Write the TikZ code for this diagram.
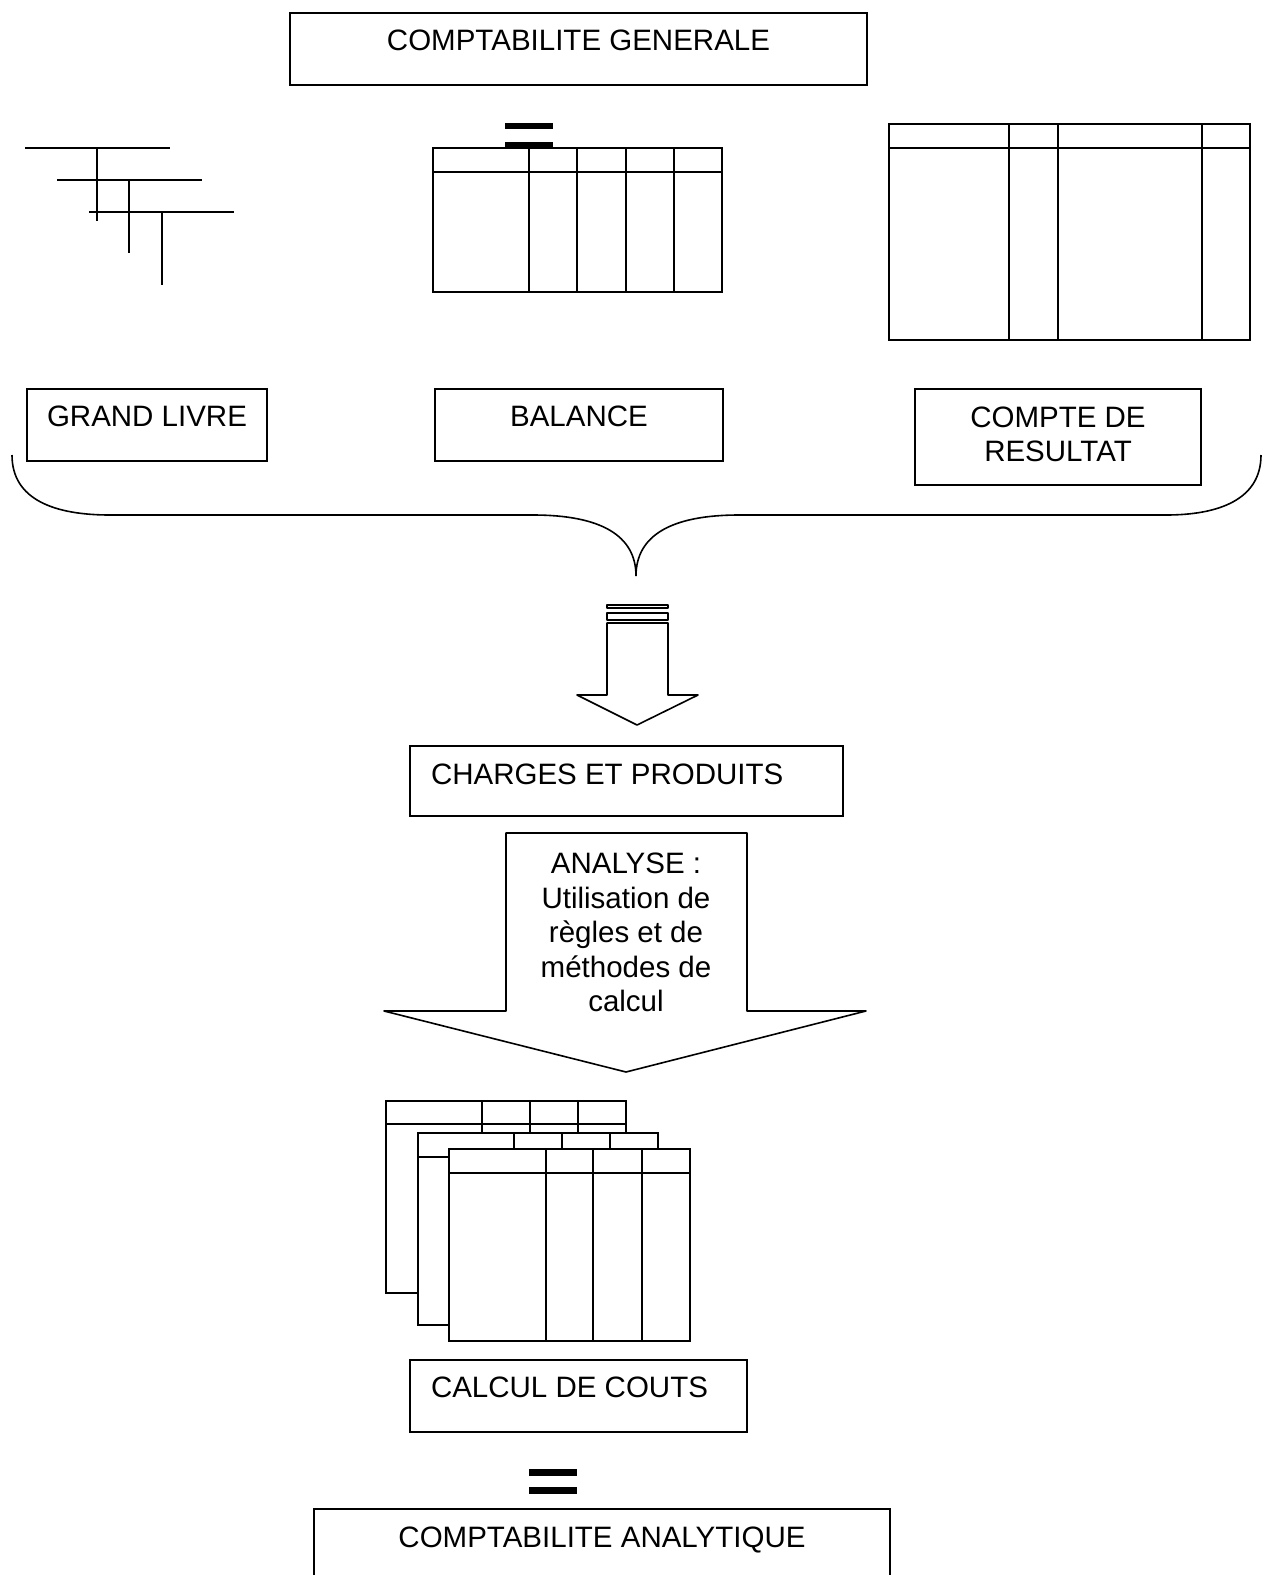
\documentclass[tikz,border=0pt]{standalone}
\usepackage{fontspec}
\setmainfont{Liberation Sans}
\usetikzlibrary{calc}
\begin{document}
\begin{tikzpicture}[x=1pt,y=-1pt,line width=2pt,line join=miter,
  box/.style={draw,line width=2pt,inner sep=0pt,anchor=north west},
  lbl/.style={font=\fontsize{29.5}{34.5}\selectfont,inner sep=0pt},
  sheet/.style={draw,fill=white,line width=2pt},
  hollow/.style={draw,line width=1.6pt,line join=round},
  bar/.style={fill=black,draw=none}]
\useasboundingbox (0,0) rectangle (1272,1575);
\clip (0,0) rectangle (1272,1575);

% --- heading box
\node[box,minimum width=577pt,minimum height=72pt] (cg) at (289,12) {};
\node[lbl,anchor=base] (cgt) at ($(cg.north)+(0,38.4)$) {COMPTABILITE GENERALE};

% --- ledger T-accounts
\draw (25,148) -- (170,148) (97,148) -- (97,221);
\draw (57,180) -- (202,180) (129,180) -- (129,253);
\draw (89,212) -- (234,212) (162,212) -- (162,285);

% --- trial balance sheet and its equals sign
\fill[bar] (505,123) rectangle (553,129);
\fill[bar] (505,142) rectangle (553,148);
\draw (433,148) rectangle (722,292);
\draw (433,172) -- (722,172);
\foreach \c in {529,577,626,674} \draw (\c,148) -- (\c,292);

% --- income statement sheet
\draw (889,124) rectangle (1250,340);
\draw (889,148) -- (1250,148);
\foreach \c in {1009,1058,1202} \draw (\c,124) -- (\c,340);

% --- captions under the three documents
\node[box,minimum width=240pt,minimum height=72pt] (gl) at (26,388) {};
\node[lbl,anchor=base] (glt) at ($(gl.north)+(0,38.4)$) {GRAND LIVRE};
\node[box,minimum width=288pt,minimum height=72pt] (bal) at (434,388) {};
\node[lbl,anchor=base] (balt) at ($(bal.north)+(0,38.4)$) {BALANCE};
\node[box,minimum width=286pt,minimum height=96pt] (cr) at (914,388) {};
\node[lbl,anchor=north,align=center] (crt) at ($(cr.north)+(0,17.6)$) {COMPTE DE\\RESULTAT};

% --- brace gathering the three documents
\coordinate (bl) at (12,455);
\coordinate (br) at (1261,455);
\coordinate (btip) at (636,576);
\draw[line width=1.6pt] (bl) .. controls (12,500) and (55,515) .. (110,515)
  -- (533,515) .. controls (600,515) and (636,535) .. (btip)
  .. controls (636,535) and (672,515) .. (739,515)
  -- (1166,515) .. controls (1218,515) and (1261,500) .. (br);

% --- first hollow arrow
\draw[hollow] (607,605) rectangle (668,608);
\draw[hollow] (607,613) rectangle (668,620);
\draw[hollow] (607,623) -- (668,623) -- (668,695) -- (698,695)
  -- (637,725) -- (577,695) -- (607,695) -- cycle;

% --- charges and products
\node[box,minimum width=433pt,minimum height=70pt] (cp) at (409,745) {};
\node[lbl,anchor=base west] (cpt) at ($(cp.north west)+(21,39.4)$) {CHARGES ET PRODUITS};

% --- analysis arrow
\draw[hollow] (506,833) -- (747,833) -- (747,1011) -- (866,1011)
  -- (626,1072) -- (384,1011) -- (506,1011) -- cycle;
\node[lbl,anchor=north,align=center] (an) at (626,852) {ANALYSE :\\Utilisation de\\règles et de\\méthodes de\\calcul};

% --- stack of cost sheets
\filldraw[sheet] (386,1101) rectangle (626,1293);
\draw (386,1124) -- (626,1124);
\foreach \c in {482,530,578} \draw (\c,1101) -- (\c,1293);
\filldraw[sheet] (418,1133) rectangle (658,1325);
\draw (418,1157) -- (658,1157);
\foreach \c in {514,562,610} \draw (\c,1133) -- (\c,1325);
\filldraw[sheet] (449,1149) rectangle (690,1341);
\draw (449,1173) -- (690,1173);
\foreach \c in {546,593,642} \draw (\c,1149) -- (\c,1341);

% --- cost calculation
\node[box,minimum width=337pt,minimum height=72pt] (cc) at (409,1359) {};
\node[lbl,anchor=base west] (cct) at ($(cc.north west)+(21,38.4)$) {CALCUL DE COUTS};

% --- equals sign and cost accounting
\fill[bar] (529,1469) rectangle (577,1476);
\fill[bar] (529,1487) rectangle (577,1494);
\node[box,minimum width=576pt,minimum height=100pt] (ca) at (313,1508) {};
\node[lbl,anchor=base] (cat) at ($(ca.north)+(0,39.4)$) {COMPTABILITE ANALYTIQUE};
\end{tikzpicture}
\end{document}
